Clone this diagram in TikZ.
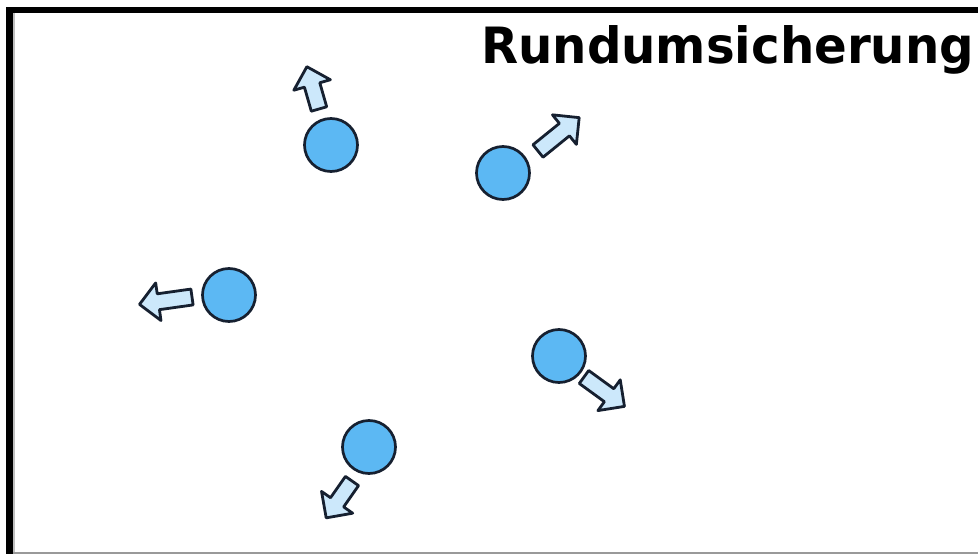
\documentclass[tikz,border=0pt]{standalone}
\usepackage{fontspec}
\usepackage{graphicx}
\newfontfamily\titlefont{DejaVu Sans}
\definecolor{circfill}{RGB}{92,184,243}
\definecolor{arrfill}{RGB}{204,232,251}
\definecolor{outl}{RGB}{22,32,48}
\tikzset{
  person/.style={circle, draw=outl, fill=circfill, line width=2.7pt, minimum size=53pt, inner sep=0pt},
  blockarr/.style={draw=outl, fill=arrfill, line width=2.8pt, line join=round},
}
% #1 = tail x, #2 = tail y, #3 = angle, #4 = length
\newcommand{\blockarrow}[4]{%
  \begin{scope}[shift={(#1,#2)}, rotate=#3]
    \path[blockarr] (0,-8) -- (#4-19,-8) -- (#4-19,-19) -- (#4,0) -- (#4-19,19) -- (#4-19,8) -- (0,8) -- cycle;
  \end{scope}}
\begin{document}
\begin{tikzpicture}[x=1pt, y=-1pt]
\useasboundingbox (0,0) rectangle (978,554);
\fill[white] (0,0) rectangle (978,554);
% frame
\fill[black] (6,7) rectangle (13,554);
\fill[black] (6,7) rectangle (978,13);
\fill[black!25] (13,13) rectangle (14.5,554);
\fill[black!40] (13,551.5) rectangle (978,553.5);
% title
\node[anchor=base west, inner sep=0pt, font=\titlefont\bfseries\fontsize{50}{56}\selectfont] (title) at (481,63) {\scalebox{0.965}[1]{Rundumsicherung}};
% persons
\node[person] (p1) at (331,145) {};
\node[person] (p2) at (503,173) {};
\node[person] (p3) at (229,295) {};
\node[person] (p4) at (559,356) {};
\node[person] (p5) at (369,447) {};
% arrows
\blockarrow{319}{109}{106}{44}
\blockarrow{538}{151}{39}{53}
\blockarrow{192}{297}{188}{53}
\blockarrow{584}{377}{-36}{50}
\blockarrow{352}{481}{235}{45}
\end{tikzpicture}
\end{document}
